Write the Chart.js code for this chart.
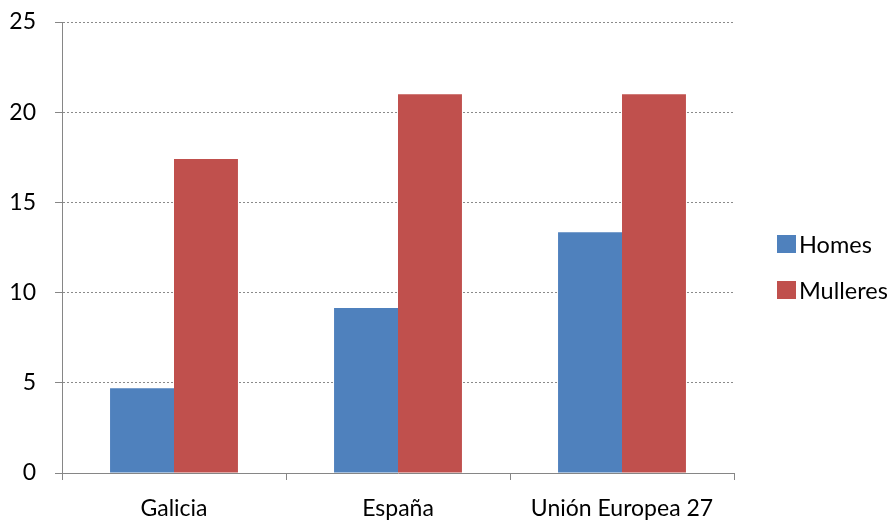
<!DOCTYPE html>
<html>
<head>
<meta charset="utf-8">
<script src="https://cdn.jsdelivr.net/npm/chart.js@4"></script>
<style>
  html, body { margin: 0; padding: 0; background: #fff; }
  #wrap { width: 896px; height: 520px; }
</style>
</head>
<body>
<div id="wrap"><canvas id="grafico"></canvas></div>
<script>
const categorias = ['Galicia', 'España', 'Unión Europea 27'];
const homes = [4.7, 9.15, 13.35];
const mulleres = [17.4, 21.0, 21.0];
const ticksY = [0, 5, 10, 15, 20, 25];

const fonte = 'Lato, "Noto Sans", sans-serif';

// lenda á dereita, debuxada a man
const lendaDereita = {
    id: 'lendaDereita',
    afterDraw(chart) {
        const ctx = chart.ctx;
        const x = 777;
        const ys = [244, 290];
        ctx.save();
        ctx.font = '23.5px ' + fonte;
        ctx.textBaseline = 'middle';
        chart.data.datasets.forEach((ds, i) => {
            ctx.fillStyle = ds.backgroundColor;
            ctx.fillRect(x, ys[i] - 9, 19, 18);
            ctx.fillStyle = '#000';
            ctx.fillText(ds.label, x + 22, ys[i] + 1);
        });
        ctx.restore();
    }
};

new Chart(document.getElementById('grafico'), {
    type: 'bar',
    data: {
        labels: categorias,
        datasets: [
            { label: 'Homes', data: homes, backgroundColor: '#4F81BD', borderWidth: 0 },
            { label: 'Mulleres', data: mulleres, backgroundColor: '#C0504D', borderWidth: 0 },
        ],
    },
    options: {
        responsive: true,
        maintainAspectRatio: false,
        animation: false,
        datasets: { bar: { barPercentage: 1, categoryPercentage: 0.571 } },
        layout: { padding: { top: 22, right: 162, left: 0, bottom: 0 } },
        plugins: { legend: { display: false }, tooltip: { enabled: false } },
        scales: {
            x: {
                grid: { offset: true, drawOnChartArea: false, drawTicks: true, tickLength: 7, color: '#868686' },
                border: { color: '#868686', width: 1 },
                ticks: { color: '#000', padding: 15, font: { family: fonte, size: 23 }, maxRotation: 0 },
                afterFit: (scale) => { scale.height = 47; scale.paddingLeft = 0; scale.paddingRight = 0; },
            },
            y: {
                min: 0,
                max: 25,
                afterBuildTicks: (scale) => { scale.ticks = ticksY.map(v => ({ value: v })); },
                grid: { color: '#8a8a8a', tickColor: '#868686', tickLength: 7, lineWidth: 1 },
                border: { color: '#868686', width: 1, dash: [2, 2] },
                ticks: { color: '#000', padding: 19, font: { family: fonte, size: 23 } },
                afterFit: (scale) => { scale.width = 62; scale.paddingTop = 0; scale.paddingBottom = 0; },
            },
        },
    },
    plugins: [lendaDereita],
});
</script>
</body>
</html>
